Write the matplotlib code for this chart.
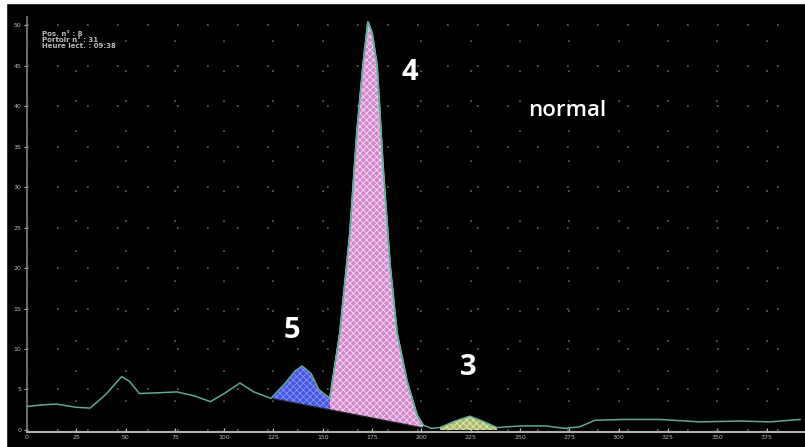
import numpy as np
import matplotlib
matplotlib.use("Agg")
import matplotlib.pyplot as plt
from matplotlib.patches import Rectangle

plt.rcParams["hatch.linewidth"] = 0.6

# electrophoresis trace
trace_x = [0, 8, 15, 25, 32, 40, 48, 52, 57, 67, 76, 85, 93, 100, 108, 115,
           123.7, 131, 136, 139.5, 144, 148, 153.6, 158.7, 163.8, 167.3, 170.4,
           172.9, 175, 177.5, 180.5, 184.1, 187.6, 192.7, 197.8, 200.8, 205,
           209.4, 217, 224.6, 231, 238.3, 250, 262.7, 272.8, 280.4, 288, 303,
           321, 341, 361.6, 376.8, 392]
trace_y = [2.9, 3.1, 3.2, 2.8, 2.7, 4.4, 6.6, 6.0, 4.5, 4.6, 4.7, 4.2, 3.5, 4.5, 5.8, 4.7,
           3.9, 5.8, 7.3, 7.9, 7.0, 5.0, 3.9, 12, 24.4, 36.7, 45,
           50.4, 49, 45, 32.6, 20.3, 12, 6, 1.8, 0.6, 0.2,
           0.3, 1.1, 1.7, 1.1, 0.3, 0.5, 0.5, 0.2, 0.4, 1.2, 1.3,
           1.3, 1.0, 1.1, 1.0, 1.3]

# sloping baseline under peaks 5 and 4
base_x = [123.7, 200.8]
base_y = [3.9, 0.25]
split_x = 153.6          # valley between peak 5 and peak 4
peak3_range = (209.4, 238.3)

xticks = list(range(0, 376, 25))
yticks = list(range(0, 51, 5))
info_lines = ["Pos. n° : 8", "Portoir n° : 31", "Heure lect. : 09:38"]
peak_labels = [("4", 194.2, 44.2), ("5", 134.4, 12.3), ("3", 223.6, 7.7)]

fig = plt.figure(figsize=(8.05, 4.47), dpi=100)
fig.patch.set_facecolor("black")
# white frame at top and left like the screenshot
fig.patches.append(Rectangle((0, 0.993), 1, 0.01, transform=fig.transFigure,
                             color="white", zorder=0))
fig.patches.append(Rectangle((0, 0), 0.008, 1, transform=fig.transFigure,
                             color="white", zorder=0))

ax = fig.add_axes([0.0335, 0.0336, 0.9665, 0.928])
ax.set_facecolor("black")
ax.set_xlim(0, 394.5)
ax.set_ylim(-0.25, 51)

tx = np.array(trace_x)
ty = np.array(trace_y)
by = np.interp(tx, base_x, base_y)

m5 = (tx >= base_x[0]) & (tx <= split_x)
m4 = (tx >= split_x) & (tx <= base_x[1])
m3 = (tx >= peak3_range[0]) & (tx <= peak3_range[1])

ax.fill_between(tx[m5], by[m5], ty[m5], facecolor="#4455e0",
                edgecolor="#8b98ff", hatch="xxxxx", linewidth=0, zorder=2)
ax.fill_between(tx[m4], by[m4], ty[m4], facecolor="#d585cc",
                edgecolor="#f6e0f4", hatch="xxxxx", linewidth=0, zorder=2)
ax.fill_between(tx[m3], 0, ty[m3], facecolor="#a8b870",
                edgecolor="#e8f0b0", hatch="xxxxx", linewidth=0, zorder=2)
ax.plot(base_x, base_y, color="#222222", lw=1, zorder=3)
ax.plot(tx[m4], ty[m4], color="#a8d8ec", lw=1.4, zorder=4)
ax.plot(tx, ty, color="#5fa898", lw=1.1, zorder=5)

# axes look
for s in ["top", "right"]:
    ax.spines[s].set_visible(False)
ax.spines["bottom"].set_color("#b0b0b0")
ax.spines["bottom"].set_linewidth(1.5)
ax.spines["left"].set_color("#808080")
ax.spines["left"].set_linewidth(1.2)

ax.set_xticks(xticks)
ax.set_yticks(yticks)
ax.tick_params(axis="x", direction="in", length=3, color="#c0c0c0",
               labelsize=4.5, labelcolor="#bbbbbb", pad=2)
ax.tick_params(axis="y", direction="out", length=2, color="#c0c0c0",
               labelsize=4.5, labelcolor="#bbbbbb", pad=2)
ax.grid(True, color="#666666", linestyle=(0, (1, 17)), linewidth=1.2)
ax.set_axisbelow(True)

ax.text(7.5, 49.3, "\n".join(info_lines), color="#bbbbbb", fontsize=5,
        va="top", ha="left", linespacing=1.05, fontweight="bold")

for lab, x, y in peak_labels:
    ax.text(x, y, lab, color="white", fontsize=21, fontweight="bold",
            family="Open Sans", ha="center", va="center")
ax.text(273.8, 39.5, "normal", color="white", fontsize=16,
        family="Open Sans", fontweight="semibold", ha="center", va="center")

plt.savefig("out.png", dpi=100, facecolor=fig.get_facecolor())
